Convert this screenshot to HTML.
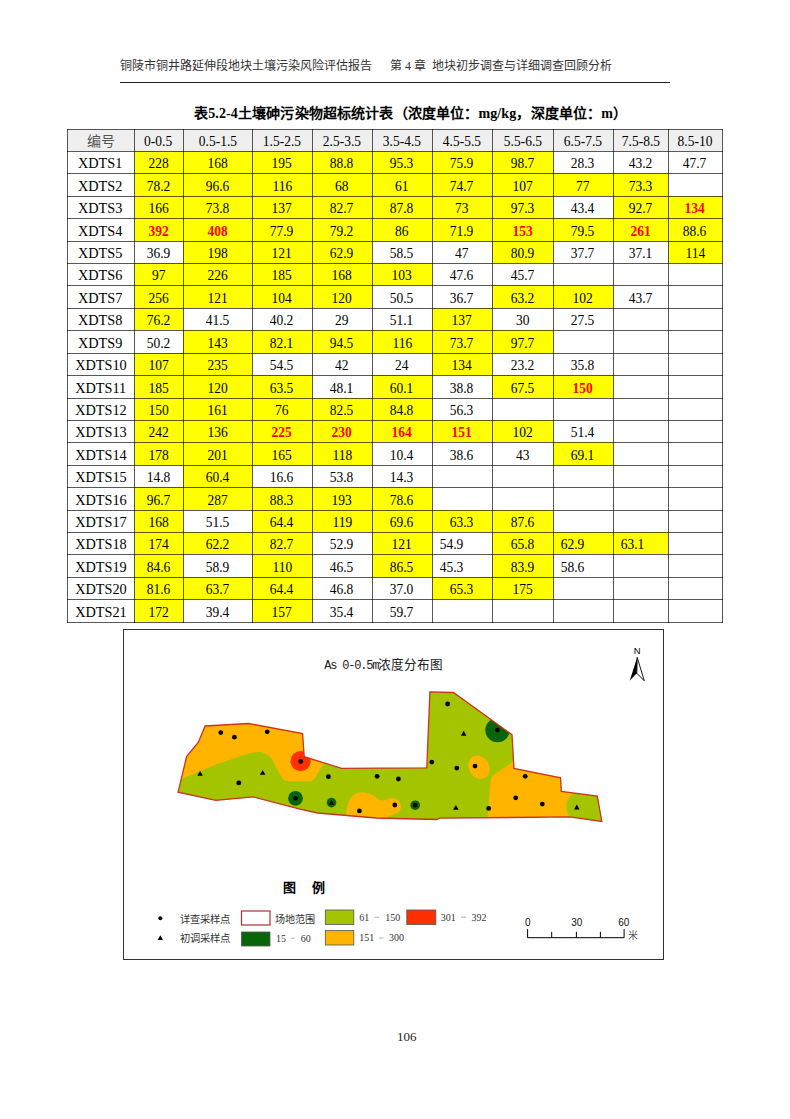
<!DOCTYPE html><html lang="zh-CN"><head><meta charset="utf-8"><style>
html,body{margin:0;padding:0;background:#fff;}
body{width:790px;height:1119px;position:relative;overflow:hidden;font-family:"Liberation Serif",serif;color:#000;}
.a{position:absolute;}
.c{position:absolute;display:flex;align-items:center;justify-content:center;font-size:15.5px;line-height:1;}
.c span{display:inline-block;transform:translateY(0.7px) scaleX(0.87);}
.cn{color:#555;font-size:14px;display:inline-block;transform:scaleX(1.15)}
.k span{transform:translateY(0.7px) scaleX(0.92)}
.hl{position:absolute;background:rgba(0,0,0,0.65);}
.y{background:#ffff00;}
.g{background:#efefef;}
.r{color:#f00;font-weight:bold;}

</style></head><body>
<div class="a" style="left:120px;top:59px;font-size:12px;line-height:14px;color:#333;white-space:nowrap">铜陵市铜井路延伸段地块土壤污染风险评估报告</div>
<div class="a" style="left:390px;top:59px;font-size:12px;line-height:14px;color:#333;white-space:nowrap">第 4 章&nbsp; 地块初步调查与详细调查回顾分析</div>
<div class="a" style="left:120px;top:82px;width:550px;height:1px;background:#222"></div>
<div class="a" style="left:194px;top:105.5px;font-size:14px;line-height:16px;font-weight:bold;letter-spacing:0.14px;white-space:nowrap">表5.2-4土壤砷污染物超标统计表（浓度单位：mg/kg，深度单位：m）</div>
<div class="c g" style="left:67px;top:129px;width:67px;height:22px;"><span><b class="cn" style="font-weight:normal">编号</b></span></div>
<div class="c g" style="left:134px;top:129px;width:49px;height:22px;"><span>0-0.5</span></div>
<div class="c g" style="left:183px;top:129px;width:69px;height:22px;"><span>0.5-1.5</span></div>
<div class="c g" style="left:252px;top:129px;width:60px;height:22px;"><span>1.5-2.5</span></div>
<div class="c g" style="left:312px;top:129px;width:60px;height:22px;"><span>2.5-3.5</span></div>
<div class="c g" style="left:372px;top:129px;width:60px;height:22px;"><span>3.5-4.5</span></div>
<div class="c g" style="left:432px;top:129px;width:60px;height:22px;"><span>4.5-5.5</span></div>
<div class="c g" style="left:492px;top:129px;width:61px;height:22px;"><span>5.5-6.5</span></div>
<div class="c g" style="left:553px;top:129px;width:60px;height:22px;"><span>6.5-7.5</span></div>
<div class="c g" style="left:613px;top:129px;width:55px;height:22px;"><span>7.5-8.5</span></div>
<div class="c g" style="left:668px;top:129px;width:54px;height:22px;"><span>8.5-10</span></div>
<div class="c k" style="left:67px;top:151px;width:67px;height:22px;"><span>XDTS1</span></div>
<div class="c y" style="left:134px;top:151px;width:49px;height:22px;"><span>228</span></div>
<div class="c y" style="left:183px;top:151px;width:69px;height:22px;"><span>168</span></div>
<div class="c y" style="left:252px;top:151px;width:60px;height:22px;"><span>195</span></div>
<div class="c y" style="left:312px;top:151px;width:60px;height:22px;"><span>88.8</span></div>
<div class="c y" style="left:372px;top:151px;width:60px;height:22px;"><span>95.3</span></div>
<div class="c y" style="left:432px;top:151px;width:60px;height:22px;"><span>75.9</span></div>
<div class="c y" style="left:492px;top:151px;width:61px;height:22px;"><span>98.7</span></div>
<div class="c " style="left:553px;top:151px;width:60px;height:22px;"><span>28.3</span></div>
<div class="c " style="left:613px;top:151px;width:55px;height:22px;"><span>43.2</span></div>
<div class="c " style="left:668px;top:151px;width:54px;height:22px;"><span>47.7</span></div>
<div class="c k" style="left:67px;top:173px;width:67px;height:23px;"><span>XDTS2</span></div>
<div class="c y" style="left:134px;top:173px;width:49px;height:23px;"><span>78.2</span></div>
<div class="c y" style="left:183px;top:173px;width:69px;height:23px;"><span>96.6</span></div>
<div class="c y" style="left:252px;top:173px;width:60px;height:23px;"><span>116</span></div>
<div class="c y" style="left:312px;top:173px;width:60px;height:23px;"><span>68</span></div>
<div class="c y" style="left:372px;top:173px;width:60px;height:23px;"><span>61</span></div>
<div class="c y" style="left:432px;top:173px;width:60px;height:23px;"><span>74.7</span></div>
<div class="c y" style="left:492px;top:173px;width:61px;height:23px;"><span>107</span></div>
<div class="c y" style="left:553px;top:173px;width:60px;height:23px;"><span>77</span></div>
<div class="c y" style="left:613px;top:173px;width:55px;height:23px;"><span>73.3</span></div>
<div class="c " style="left:668px;top:173px;width:54px;height:23px;"><span></span></div>
<div class="c k" style="left:67px;top:196px;width:67px;height:22px;"><span>XDTS3</span></div>
<div class="c y" style="left:134px;top:196px;width:49px;height:22px;"><span>166</span></div>
<div class="c y" style="left:183px;top:196px;width:69px;height:22px;"><span>73.8</span></div>
<div class="c y" style="left:252px;top:196px;width:60px;height:22px;"><span>137</span></div>
<div class="c y" style="left:312px;top:196px;width:60px;height:22px;"><span>82.7</span></div>
<div class="c y" style="left:372px;top:196px;width:60px;height:22px;"><span>87.8</span></div>
<div class="c y" style="left:432px;top:196px;width:60px;height:22px;"><span>73</span></div>
<div class="c y" style="left:492px;top:196px;width:61px;height:22px;"><span>97.3</span></div>
<div class="c " style="left:553px;top:196px;width:60px;height:22px;"><span>43.4</span></div>
<div class="c y" style="left:613px;top:196px;width:55px;height:22px;"><span>92.7</span></div>
<div class="c y r" style="left:668px;top:196px;width:54px;height:22px;"><span>134</span></div>
<div class="c k" style="left:67px;top:218px;width:67px;height:23px;"><span>XDTS4</span></div>
<div class="c y r" style="left:134px;top:218px;width:49px;height:23px;"><span>392</span></div>
<div class="c y r" style="left:183px;top:218px;width:69px;height:23px;"><span>408</span></div>
<div class="c y" style="left:252px;top:218px;width:60px;height:23px;"><span>77.9</span></div>
<div class="c y" style="left:312px;top:218px;width:60px;height:23px;"><span>79.2</span></div>
<div class="c y" style="left:372px;top:218px;width:60px;height:23px;"><span>86</span></div>
<div class="c y" style="left:432px;top:218px;width:60px;height:23px;"><span>71.9</span></div>
<div class="c y r" style="left:492px;top:218px;width:61px;height:23px;"><span>153</span></div>
<div class="c y" style="left:553px;top:218px;width:60px;height:23px;"><span>79.5</span></div>
<div class="c y r" style="left:613px;top:218px;width:55px;height:23px;"><span>261</span></div>
<div class="c y" style="left:668px;top:218px;width:54px;height:23px;"><span>88.6</span></div>
<div class="c k" style="left:67px;top:241px;width:67px;height:22px;"><span>XDTS5</span></div>
<div class="c " style="left:134px;top:241px;width:49px;height:22px;"><span>36.9</span></div>
<div class="c y" style="left:183px;top:241px;width:69px;height:22px;"><span>198</span></div>
<div class="c y" style="left:252px;top:241px;width:60px;height:22px;"><span>121</span></div>
<div class="c y" style="left:312px;top:241px;width:60px;height:22px;"><span>62.9</span></div>
<div class="c " style="left:372px;top:241px;width:60px;height:22px;"><span>58.5</span></div>
<div class="c " style="left:432px;top:241px;width:60px;height:22px;"><span>47</span></div>
<div class="c y" style="left:492px;top:241px;width:61px;height:22px;"><span>80.9</span></div>
<div class="c " style="left:553px;top:241px;width:60px;height:22px;"><span>37.7</span></div>
<div class="c " style="left:613px;top:241px;width:55px;height:22px;"><span>37.1</span></div>
<div class="c y" style="left:668px;top:241px;width:54px;height:22px;"><span>114</span></div>
<div class="c k" style="left:67px;top:263px;width:67px;height:22px;"><span>XDTS6</span></div>
<div class="c y" style="left:134px;top:263px;width:49px;height:22px;"><span>97</span></div>
<div class="c y" style="left:183px;top:263px;width:69px;height:22px;"><span>226</span></div>
<div class="c y" style="left:252px;top:263px;width:60px;height:22px;"><span>185</span></div>
<div class="c y" style="left:312px;top:263px;width:60px;height:22px;"><span>168</span></div>
<div class="c y" style="left:372px;top:263px;width:60px;height:22px;"><span>103</span></div>
<div class="c " style="left:432px;top:263px;width:60px;height:22px;"><span>47.6</span></div>
<div class="c " style="left:492px;top:263px;width:61px;height:22px;"><span>45.7</span></div>
<div class="c " style="left:553px;top:263px;width:60px;height:22px;"><span></span></div>
<div class="c " style="left:613px;top:263px;width:55px;height:22px;"><span></span></div>
<div class="c " style="left:668px;top:263px;width:54px;height:22px;"><span></span></div>
<div class="c k" style="left:67px;top:285px;width:67px;height:23px;"><span>XDTS7</span></div>
<div class="c y" style="left:134px;top:285px;width:49px;height:23px;"><span>256</span></div>
<div class="c y" style="left:183px;top:285px;width:69px;height:23px;"><span>121</span></div>
<div class="c y" style="left:252px;top:285px;width:60px;height:23px;"><span>104</span></div>
<div class="c y" style="left:312px;top:285px;width:60px;height:23px;"><span>120</span></div>
<div class="c " style="left:372px;top:285px;width:60px;height:23px;"><span>50.5</span></div>
<div class="c " style="left:432px;top:285px;width:60px;height:23px;"><span>36.7</span></div>
<div class="c y" style="left:492px;top:285px;width:61px;height:23px;"><span>63.2</span></div>
<div class="c y" style="left:553px;top:285px;width:60px;height:23px;"><span>102</span></div>
<div class="c " style="left:613px;top:285px;width:55px;height:23px;"><span>43.7</span></div>
<div class="c " style="left:668px;top:285px;width:54px;height:23px;"><span></span></div>
<div class="c k" style="left:67px;top:308px;width:67px;height:22px;"><span>XDTS8</span></div>
<div class="c y" style="left:134px;top:308px;width:49px;height:22px;"><span>76.2</span></div>
<div class="c " style="left:183px;top:308px;width:69px;height:22px;"><span>41.5</span></div>
<div class="c " style="left:252px;top:308px;width:60px;height:22px;"><span>40.2</span></div>
<div class="c " style="left:312px;top:308px;width:60px;height:22px;"><span>29</span></div>
<div class="c " style="left:372px;top:308px;width:60px;height:22px;"><span>51.1</span></div>
<div class="c y" style="left:432px;top:308px;width:60px;height:22px;"><span>137</span></div>
<div class="c " style="left:492px;top:308px;width:61px;height:22px;"><span>30</span></div>
<div class="c " style="left:553px;top:308px;width:60px;height:22px;"><span>27.5</span></div>
<div class="c " style="left:613px;top:308px;width:55px;height:22px;"><span></span></div>
<div class="c " style="left:668px;top:308px;width:54px;height:22px;"><span></span></div>
<div class="c k" style="left:67px;top:330px;width:67px;height:23px;"><span>XDTS9</span></div>
<div class="c " style="left:134px;top:330px;width:49px;height:23px;"><span>50.2</span></div>
<div class="c y" style="left:183px;top:330px;width:69px;height:23px;"><span>143</span></div>
<div class="c y" style="left:252px;top:330px;width:60px;height:23px;"><span>82.1</span></div>
<div class="c y" style="left:312px;top:330px;width:60px;height:23px;"><span>94.5</span></div>
<div class="c y" style="left:372px;top:330px;width:60px;height:23px;"><span>116</span></div>
<div class="c y" style="left:432px;top:330px;width:60px;height:23px;"><span>73.7</span></div>
<div class="c y" style="left:492px;top:330px;width:61px;height:23px;"><span>97.7</span></div>
<div class="c " style="left:553px;top:330px;width:60px;height:23px;"><span></span></div>
<div class="c " style="left:613px;top:330px;width:55px;height:23px;"><span></span></div>
<div class="c " style="left:668px;top:330px;width:54px;height:23px;"><span></span></div>
<div class="c k" style="left:67px;top:353px;width:67px;height:22px;"><span>XDTS10</span></div>
<div class="c y" style="left:134px;top:353px;width:49px;height:22px;"><span>107</span></div>
<div class="c y" style="left:183px;top:353px;width:69px;height:22px;"><span>235</span></div>
<div class="c " style="left:252px;top:353px;width:60px;height:22px;"><span>54.5</span></div>
<div class="c " style="left:312px;top:353px;width:60px;height:22px;"><span>42</span></div>
<div class="c " style="left:372px;top:353px;width:60px;height:22px;"><span>24</span></div>
<div class="c y" style="left:432px;top:353px;width:60px;height:22px;"><span>134</span></div>
<div class="c " style="left:492px;top:353px;width:61px;height:22px;"><span>23.2</span></div>
<div class="c " style="left:553px;top:353px;width:60px;height:22px;"><span>35.8</span></div>
<div class="c " style="left:613px;top:353px;width:55px;height:22px;"><span></span></div>
<div class="c " style="left:668px;top:353px;width:54px;height:22px;"><span></span></div>
<div class="c k" style="left:67px;top:375px;width:67px;height:23px;"><span>XDTS11</span></div>
<div class="c y" style="left:134px;top:375px;width:49px;height:23px;"><span>185</span></div>
<div class="c y" style="left:183px;top:375px;width:69px;height:23px;"><span>120</span></div>
<div class="c y" style="left:252px;top:375px;width:60px;height:23px;"><span>63.5</span></div>
<div class="c " style="left:312px;top:375px;width:60px;height:23px;"><span>48.1</span></div>
<div class="c y" style="left:372px;top:375px;width:60px;height:23px;"><span>60.1</span></div>
<div class="c " style="left:432px;top:375px;width:60px;height:23px;"><span>38.8</span></div>
<div class="c y" style="left:492px;top:375px;width:61px;height:23px;"><span>67.5</span></div>
<div class="c y r" style="left:553px;top:375px;width:60px;height:23px;"><span>150</span></div>
<div class="c " style="left:613px;top:375px;width:55px;height:23px;"><span></span></div>
<div class="c " style="left:668px;top:375px;width:54px;height:23px;"><span></span></div>
<div class="c k" style="left:67px;top:398px;width:67px;height:22px;"><span>XDTS12</span></div>
<div class="c y" style="left:134px;top:398px;width:49px;height:22px;"><span>150</span></div>
<div class="c y" style="left:183px;top:398px;width:69px;height:22px;"><span>161</span></div>
<div class="c y" style="left:252px;top:398px;width:60px;height:22px;"><span>76</span></div>
<div class="c y" style="left:312px;top:398px;width:60px;height:22px;"><span>82.5</span></div>
<div class="c y" style="left:372px;top:398px;width:60px;height:22px;"><span>84.8</span></div>
<div class="c " style="left:432px;top:398px;width:60px;height:22px;"><span>56.3</span></div>
<div class="c " style="left:492px;top:398px;width:61px;height:22px;"><span></span></div>
<div class="c " style="left:553px;top:398px;width:60px;height:22px;"><span></span></div>
<div class="c " style="left:613px;top:398px;width:55px;height:22px;"><span></span></div>
<div class="c " style="left:668px;top:398px;width:54px;height:22px;"><span></span></div>
<div class="c k" style="left:67px;top:420px;width:67px;height:22px;"><span>XDTS13</span></div>
<div class="c y" style="left:134px;top:420px;width:49px;height:22px;"><span>242</span></div>
<div class="c y" style="left:183px;top:420px;width:69px;height:22px;"><span>136</span></div>
<div class="c y r" style="left:252px;top:420px;width:60px;height:22px;"><span>225</span></div>
<div class="c y r" style="left:312px;top:420px;width:60px;height:22px;"><span>230</span></div>
<div class="c y r" style="left:372px;top:420px;width:60px;height:22px;"><span>164</span></div>
<div class="c y r" style="left:432px;top:420px;width:60px;height:22px;"><span>151</span></div>
<div class="c y" style="left:492px;top:420px;width:61px;height:22px;"><span>102</span></div>
<div class="c " style="left:553px;top:420px;width:60px;height:22px;"><span>51.4</span></div>
<div class="c " style="left:613px;top:420px;width:55px;height:22px;"><span></span></div>
<div class="c " style="left:668px;top:420px;width:54px;height:22px;"><span></span></div>
<div class="c k" style="left:67px;top:442px;width:67px;height:23px;"><span>XDTS14</span></div>
<div class="c y" style="left:134px;top:442px;width:49px;height:23px;"><span>178</span></div>
<div class="c y" style="left:183px;top:442px;width:69px;height:23px;"><span>201</span></div>
<div class="c y" style="left:252px;top:442px;width:60px;height:23px;"><span>165</span></div>
<div class="c y" style="left:312px;top:442px;width:60px;height:23px;"><span>118</span></div>
<div class="c " style="left:372px;top:442px;width:60px;height:23px;"><span>10.4</span></div>
<div class="c " style="left:432px;top:442px;width:60px;height:23px;"><span>38.6</span></div>
<div class="c " style="left:492px;top:442px;width:61px;height:23px;"><span>43</span></div>
<div class="c y" style="left:553px;top:442px;width:60px;height:23px;"><span>69.1</span></div>
<div class="c " style="left:613px;top:442px;width:55px;height:23px;"><span></span></div>
<div class="c " style="left:668px;top:442px;width:54px;height:23px;"><span></span></div>
<div class="c k" style="left:67px;top:465px;width:67px;height:22px;"><span>XDTS15</span></div>
<div class="c " style="left:134px;top:465px;width:49px;height:22px;"><span>14.8</span></div>
<div class="c y" style="left:183px;top:465px;width:69px;height:22px;"><span>60.4</span></div>
<div class="c " style="left:252px;top:465px;width:60px;height:22px;"><span>16.6</span></div>
<div class="c " style="left:312px;top:465px;width:60px;height:22px;"><span>53.8</span></div>
<div class="c " style="left:372px;top:465px;width:60px;height:22px;"><span>14.3</span></div>
<div class="c " style="left:432px;top:465px;width:60px;height:22px;"><span></span></div>
<div class="c " style="left:492px;top:465px;width:61px;height:22px;"><span></span></div>
<div class="c " style="left:553px;top:465px;width:60px;height:22px;"><span></span></div>
<div class="c " style="left:613px;top:465px;width:55px;height:22px;"><span></span></div>
<div class="c " style="left:668px;top:465px;width:54px;height:22px;"><span></span></div>
<div class="c k" style="left:67px;top:487px;width:67px;height:23px;"><span>XDTS16</span></div>
<div class="c y" style="left:134px;top:487px;width:49px;height:23px;"><span>96.7</span></div>
<div class="c y" style="left:183px;top:487px;width:69px;height:23px;"><span>287</span></div>
<div class="c y" style="left:252px;top:487px;width:60px;height:23px;"><span>88.3</span></div>
<div class="c y" style="left:312px;top:487px;width:60px;height:23px;"><span>193</span></div>
<div class="c y" style="left:372px;top:487px;width:60px;height:23px;"><span>78.6</span></div>
<div class="c " style="left:432px;top:487px;width:60px;height:23px;"><span></span></div>
<div class="c " style="left:492px;top:487px;width:61px;height:23px;"><span></span></div>
<div class="c " style="left:553px;top:487px;width:60px;height:23px;"><span></span></div>
<div class="c " style="left:613px;top:487px;width:55px;height:23px;"><span></span></div>
<div class="c " style="left:668px;top:487px;width:54px;height:23px;"><span></span></div>
<div class="c k" style="left:67px;top:510px;width:67px;height:22px;"><span>XDTS17</span></div>
<div class="c y" style="left:134px;top:510px;width:49px;height:22px;"><span>168</span></div>
<div class="c " style="left:183px;top:510px;width:69px;height:22px;"><span>51.5</span></div>
<div class="c y" style="left:252px;top:510px;width:60px;height:22px;"><span>64.4</span></div>
<div class="c y" style="left:312px;top:510px;width:60px;height:22px;"><span>119</span></div>
<div class="c y" style="left:372px;top:510px;width:60px;height:22px;"><span>69.6</span></div>
<div class="c y" style="left:432px;top:510px;width:60px;height:22px;"><span>63.3</span></div>
<div class="c y" style="left:492px;top:510px;width:61px;height:22px;"><span>87.6</span></div>
<div class="c " style="left:553px;top:510px;width:60px;height:22px;"><span></span></div>
<div class="c " style="left:613px;top:510px;width:55px;height:22px;"><span></span></div>
<div class="c " style="left:668px;top:510px;width:54px;height:22px;"><span></span></div>
<div class="c k" style="left:67px;top:532px;width:67px;height:22px;"><span>XDTS18</span></div>
<div class="c y" style="left:134px;top:532px;width:49px;height:22px;"><span>174</span></div>
<div class="c y" style="left:183px;top:532px;width:69px;height:22px;"><span>62.2</span></div>
<div class="c y" style="left:252px;top:532px;width:60px;height:22px;"><span>82.7</span></div>
<div class="c " style="left:312px;top:532px;width:60px;height:22px;"><span>52.9</span></div>
<div class="c y" style="left:372px;top:532px;width:60px;height:22px;"><span>121</span></div>
<div class="c " style="left:432px;top:532px;width:60px;height:22px;justify-content:flex-start;padding-left:6px;box-sizing:border-box;"><span>54.9</span></div>
<div class="c y" style="left:492px;top:532px;width:61px;height:22px;"><span>65.8</span></div>
<div class="c y" style="left:553px;top:532px;width:60px;height:22px;justify-content:flex-start;padding-left:6px;box-sizing:border-box;"><span>62.9</span></div>
<div class="c y" style="left:613px;top:532px;width:55px;height:22px;justify-content:flex-start;padding-left:6px;box-sizing:border-box;"><span>63.1</span></div>
<div class="c " style="left:668px;top:532px;width:54px;height:22px;"><span></span></div>
<div class="c k" style="left:67px;top:554px;width:67px;height:23px;"><span>XDTS19</span></div>
<div class="c y" style="left:134px;top:554px;width:49px;height:23px;"><span>84.6</span></div>
<div class="c " style="left:183px;top:554px;width:69px;height:23px;"><span>58.9</span></div>
<div class="c y" style="left:252px;top:554px;width:60px;height:23px;"><span>110</span></div>
<div class="c " style="left:312px;top:554px;width:60px;height:23px;"><span>46.5</span></div>
<div class="c y" style="left:372px;top:554px;width:60px;height:23px;"><span>86.5</span></div>
<div class="c " style="left:432px;top:554px;width:60px;height:23px;justify-content:flex-start;padding-left:6px;box-sizing:border-box;"><span>45.3</span></div>
<div class="c y" style="left:492px;top:554px;width:61px;height:23px;"><span>83.9</span></div>
<div class="c " style="left:553px;top:554px;width:60px;height:23px;justify-content:flex-start;padding-left:6px;box-sizing:border-box;"><span>58.6</span></div>
<div class="c " style="left:613px;top:554px;width:55px;height:23px;"><span></span></div>
<div class="c " style="left:668px;top:554px;width:54px;height:23px;"><span></span></div>
<div class="c k" style="left:67px;top:577px;width:67px;height:22px;"><span>XDTS20</span></div>
<div class="c y" style="left:134px;top:577px;width:49px;height:22px;"><span>81.6</span></div>
<div class="c y" style="left:183px;top:577px;width:69px;height:22px;"><span>63.7</span></div>
<div class="c y" style="left:252px;top:577px;width:60px;height:22px;"><span>64.4</span></div>
<div class="c " style="left:312px;top:577px;width:60px;height:22px;"><span>46.8</span></div>
<div class="c " style="left:372px;top:577px;width:60px;height:22px;"><span>37.0</span></div>
<div class="c y" style="left:432px;top:577px;width:60px;height:22px;"><span>65.3</span></div>
<div class="c y" style="left:492px;top:577px;width:61px;height:22px;"><span>175</span></div>
<div class="c " style="left:553px;top:577px;width:60px;height:22px;"><span></span></div>
<div class="c " style="left:613px;top:577px;width:55px;height:22px;"><span></span></div>
<div class="c " style="left:668px;top:577px;width:54px;height:22px;"><span></span></div>
<div class="c k" style="left:67px;top:599px;width:67px;height:23px;"><span>XDTS21</span></div>
<div class="c y" style="left:134px;top:599px;width:49px;height:23px;"><span>172</span></div>
<div class="c " style="left:183px;top:599px;width:69px;height:23px;"><span>39.4</span></div>
<div class="c y" style="left:252px;top:599px;width:60px;height:23px;"><span>157</span></div>
<div class="c " style="left:312px;top:599px;width:60px;height:23px;"><span>35.4</span></div>
<div class="c " style="left:372px;top:599px;width:60px;height:23px;"><span>59.7</span></div>
<div class="c " style="left:432px;top:599px;width:60px;height:23px;"><span></span></div>
<div class="c " style="left:492px;top:599px;width:61px;height:23px;"><span></span></div>
<div class="c " style="left:553px;top:599px;width:60px;height:23px;"><span></span></div>
<div class="c " style="left:613px;top:599px;width:55px;height:23px;"><span></span></div>
<div class="c " style="left:668px;top:599px;width:54px;height:23px;"><span></span></div>
<div class="hl" style="left:67px;top:129px;width:1px;height:494px"></div>
<div class="hl" style="left:134px;top:129px;width:1px;height:494px"></div>
<div class="hl" style="left:183px;top:129px;width:1px;height:494px"></div>
<div class="hl" style="left:252px;top:129px;width:1px;height:494px"></div>
<div class="hl" style="left:312px;top:129px;width:1px;height:494px"></div>
<div class="hl" style="left:372px;top:129px;width:1px;height:494px"></div>
<div class="hl" style="left:432px;top:129px;width:1px;height:494px"></div>
<div class="hl" style="left:492px;top:129px;width:1px;height:494px"></div>
<div class="hl" style="left:553px;top:129px;width:1px;height:494px"></div>
<div class="hl" style="left:613px;top:129px;width:1px;height:494px"></div>
<div class="hl" style="left:668px;top:129px;width:1px;height:494px"></div>
<div class="hl" style="left:722px;top:129px;width:1px;height:494px"></div>
<div class="hl" style="left:67px;top:129px;width:656px;height:1px"></div>
<div class="hl" style="left:67px;top:151px;width:656px;height:1px"></div>
<div class="hl" style="left:67px;top:173px;width:656px;height:1px"></div>
<div class="hl" style="left:67px;top:196px;width:656px;height:1px"></div>
<div class="hl" style="left:67px;top:218px;width:656px;height:1px"></div>
<div class="hl" style="left:67px;top:241px;width:656px;height:1px"></div>
<div class="hl" style="left:67px;top:263px;width:656px;height:1px"></div>
<div class="hl" style="left:67px;top:285px;width:656px;height:1px"></div>
<div class="hl" style="left:67px;top:308px;width:656px;height:1px"></div>
<div class="hl" style="left:67px;top:330px;width:656px;height:1px"></div>
<div class="hl" style="left:67px;top:353px;width:656px;height:1px"></div>
<div class="hl" style="left:67px;top:375px;width:656px;height:1px"></div>
<div class="hl" style="left:67px;top:398px;width:656px;height:1px"></div>
<div class="hl" style="left:67px;top:420px;width:656px;height:1px"></div>
<div class="hl" style="left:67px;top:442px;width:656px;height:1px"></div>
<div class="hl" style="left:67px;top:465px;width:656px;height:1px"></div>
<div class="hl" style="left:67px;top:487px;width:656px;height:1px"></div>
<div class="hl" style="left:67px;top:510px;width:656px;height:1px"></div>
<div class="hl" style="left:67px;top:532px;width:656px;height:1px"></div>
<div class="hl" style="left:67px;top:554px;width:656px;height:1px"></div>
<div class="hl" style="left:67px;top:577px;width:656px;height:1px"></div>
<div class="hl" style="left:67px;top:599px;width:656px;height:1px"></div>
<div class="hl" style="left:67px;top:622px;width:656px;height:1px"></div>
<div class="a" style="left:123px;top:629px;width:539px;height:329px;border:1.5px solid #333"></div>
<svg class="a" style="left:0;top:0" width="790" height="1119" viewBox="0 0 790 1119">
<defs><clipPath id="bd"><polygon points="205.1,726.0 248.5,723.5 302.6,733.6 304.2,756.7 341.6,768.4 426.8,767.8 429.9,691.8 453.4,692.5 512.0,734.7 514.0,768.5 560.6,777.8 561.3,791.5 597.3,796.1 601.8,821.5 569.5,816.8 510.0,817.5 439.7,818.2 436.7,819.5 376.2,818.0 317.7,813.0 300.0,809.1 253.0,796.9 215.8,800.4 178.1,792.2 186.6,756.6 198.4,742.2"/></clipPath></defs>
<g clip-path="url(#bd)">
<rect x="170" y="680" width="440" height="150" fill="#a5c400"/>
<path fill="#ffb400" d="M170,690 L335,690 L335,756 L323.1,764.5 L316.1,776 C314.5,779.5 312,781.3 309.9,781.3 L290,781.5 C286,781.2 284,780.5 282.7,778.6 L276.9,769.1 C274.5,764 272.5,757 265.2,753.8 C262,752 259,751.5 256.5,751.9 C250,753 245,754.5 240.5,756 L211.4,766.2 L170,784 Z"/>
<path fill="#ffb400" d="M346,822 C346,808 348,798 355,794 C362,791 372,793 378,799 C382,802 385,800 389,798.5 C395,797 400,800 401,806 C401.5,811 397,814 388,816 L386,822 Z"/>
<ellipse cx="479" cy="767.2" rx="10" ry="12.2" fill="#ffb400" transform="rotate(-30 479 767.2)"/>
<path fill="#ffb400" d="M515,760 C505,768 494,773 491.4,778 C489.5,784 490,795 486.8,825 L620,825 L620,740 Z"/>
<circle cx="300.6" cy="761.2" r="10.1" fill="#ff3000"/>
<circle cx="295.5" cy="798.3" r="7.4" fill="#0a640a"/>
<circle cx="331.5" cy="802.6" r="4.8" fill="#0a640a"/>
<circle cx="415.2" cy="805.2" r="4.8" fill="#0a640a"/>
<circle cx="497.5" cy="730.1" r="12.2" fill="#0a640a"/>
<path fill="#a5c400" d="M574,793 C568,797 566,802 566.2,807.5 C566.4,812 568,815 571,818 L615,830 L615,785 Z"/>
</g>
<polygon points="205.1,726.0 248.5,723.5 302.6,733.6 304.2,756.7 341.6,768.4 426.8,767.8 429.9,691.8 453.4,692.5 512.0,734.7 514.0,768.5 560.6,777.8 561.3,791.5 597.3,796.1 601.8,821.5 569.5,816.8 510.0,817.5 439.7,818.2 436.7,819.5 376.2,818.0 317.7,813.0 300.0,809.1 253.0,796.9 215.8,800.4 178.1,792.2 186.6,756.6 198.4,742.2" fill="none" stroke="#cc3322" stroke-width="1.3" stroke-linejoin="miter"/>
<circle cx="220.8" cy="732.6" r="2.4" fill="#000"/>
<circle cx="234.4" cy="737.2" r="2.4" fill="#000"/>
<circle cx="267.2" cy="731.8" r="2.4" fill="#000"/>
<circle cx="300.7" cy="761.4" r="2.4" fill="#000"/>
<circle cx="238.8" cy="782.9" r="2.4" fill="#000"/>
<circle cx="295.5" cy="798.3" r="2.4" fill="#000"/>
<circle cx="328.4" cy="776.7" r="2.4" fill="#000"/>
<circle cx="377.1" cy="776.3" r="2.4" fill="#000"/>
<circle cx="398.4" cy="779" r="2.4" fill="#000"/>
<circle cx="431.8" cy="762.1" r="2.4" fill="#000"/>
<circle cx="359.4" cy="810.9" r="2.4" fill="#000"/>
<circle cx="394.8" cy="805" r="2.4" fill="#000"/>
<circle cx="415.2" cy="805.2" r="2.4" fill="#000"/>
<circle cx="447.6" cy="704" r="2.4" fill="#000"/>
<circle cx="497.3" cy="730.1" r="2.4" fill="#000"/>
<circle cx="456.8" cy="768.1" r="2.4" fill="#000"/>
<circle cx="475" cy="766.1" r="2.4" fill="#000"/>
<circle cx="525.2" cy="776.3" r="2.4" fill="#000"/>
<circle cx="515.7" cy="797.8" r="2.4" fill="#000"/>
<circle cx="542.3" cy="804.1" r="2.4" fill="#000"/>
<circle cx="488.7" cy="808.4" r="2.4" fill="#000"/>
<polygon points="197.3,775.8 202.8,775.8 200.1,770.9" fill="#000"/>
<polygon points="259.9,774.8 265.4,774.8 262.7,769.9" fill="#000"/>
<polygon points="328.8,804.8 334.2,804.8 331.5,799.9" fill="#000"/>
<polygon points="460.9,735.7 466.4,735.7 463.7,730.8" fill="#000"/>
<polygon points="453.1,809.8 458.6,809.8 455.9,804.9" fill="#000"/>
<polygon points="574.0,809.4 579.5,809.4 576.8,804.5" fill="#000"/>
<text x="637.2" y="654.3" font-family="Liberation Sans" font-size="9.4" text-anchor="middle">N</text>
<polygon points="637.2,657.3 629.7,680.8 636.8,673.2" fill="#000"/>
<polygon points="637.2,657.3 644.3,680.8 636.8,673.2" fill="#fff" stroke="#000" stroke-width="0.9"/>
<path d="M527.6,929.1 V937.7 H624.1 V929.1 M551.7,931.8 V937.7 M576.4,931.8 V937.7 M600.4,931.8 V937.7" fill="none" stroke="#000" stroke-width="1"/>
<text x="527.8" y="926.3" font-family="Liberation Sans" font-size="10" text-anchor="middle" fill="#111">0</text>
<text x="576.7" y="926.3" font-family="Liberation Sans" font-size="10" text-anchor="middle" fill="#111">30</text>
<text x="623.8" y="926.3" font-family="Liberation Sans" font-size="10" text-anchor="middle" fill="#111">60</text>
<text x="627.8" y="938.5" font-family="Liberation Serif" font-size="10" fill="#555">米</text>
<text x="283" y="892" font-family="Liberation Serif" font-size="13" font-weight="bold">图</text>
<text x="311.5" y="892" font-family="Liberation Serif" font-size="13" font-weight="bold">例</text>
<circle cx="160.3" cy="918.3" r="2" fill="#000"/>
<polygon points="157.6,940 163,940 160.3,935.3" fill="#000"/>
<text x="179.6" y="922.5" font-family="Liberation Serif" font-size="10.3" fill="#333">详查采样点</text>
<text x="179.6" y="942" font-family="Liberation Serif" font-size="10.3" fill="#333">初调采样点</text>
<rect x="241.5" y="911" width="28.5" height="14" fill="#fff" stroke="#b03030" stroke-width="1.2"/>
<rect x="241.5" y="932" width="28.5" height="14" fill="#0a640a" stroke="#555" stroke-width="0.8"/>
<text x="274.9" y="922.5" font-family="Liberation Serif" font-size="10.1" fill="#333">场地范围</text>
<rect x="325.3" y="910" width="28.5" height="14.5" fill="#a5c400" stroke="#555" stroke-width="0.8"/>
<rect x="325.3" y="930.5" width="28.5" height="14.5" fill="#ffb400" stroke="#555" stroke-width="0.8"/>
<rect x="406.8" y="910" width="29" height="14.5" fill="#ff3000" stroke="#555" stroke-width="0.8"/>
<text x="276.0" y="941.6" font-family="Liberation Serif" font-size="10" fill="#333">15</text>
<rect x="290.9" y="937.8000000000001" width="4.100000000000023" height="0.8" fill="#999"/>
<text x="300.8" y="941.6" font-family="Liberation Serif" font-size="10" fill="#333">60</text>
<text x="359.2" y="920.8" font-family="Liberation Serif" font-size="10" fill="#333">61</text>
<rect x="374.6" y="916.8000000000001" width="4.399999999999977" height="0.8" fill="#999"/>
<text x="385.2" y="920.8" font-family="Liberation Serif" font-size="10" fill="#333">150</text>
<text x="359.2" y="941.3" font-family="Liberation Serif" font-size="10" fill="#333">151</text>
<rect x="379" y="937.6" width="4.5" height="0.8" fill="#999"/>
<text x="389.0" y="941.3" font-family="Liberation Serif" font-size="10" fill="#333">300</text>
<text x="440.7" y="920.8" font-family="Liberation Serif" font-size="10" fill="#333">301</text>
<rect x="461" y="916.7" width="5" height="0.8" fill="#999"/>
<text x="471.5" y="920.8" font-family="Liberation Serif" font-size="10" fill="#333">392</text>
<text x="324.2" y="669" font-family="Liberation Mono" font-size="12" fill="#222" letter-spacing="-1.2">As 0-0.5m</text>
<text x="378" y="669.3" font-family="Liberation Serif" font-size="12.6" fill="#222">浓度分布图</text>
</svg>
<div class="a" style="left:397px;top:1029px;font-size:13px;line-height:15px;color:#222">106</div>
</body></html>
